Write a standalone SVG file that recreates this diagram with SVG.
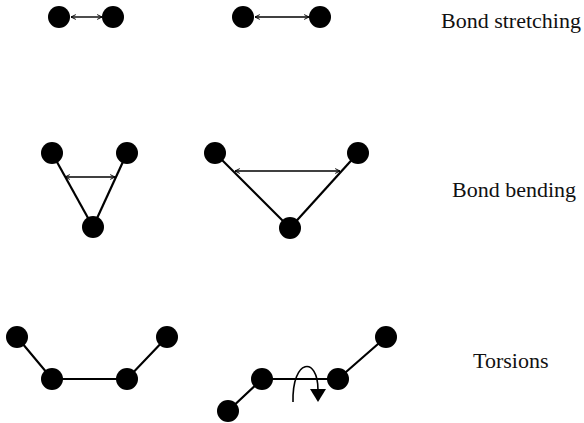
<svg xmlns="http://www.w3.org/2000/svg" width="584" height="423" viewBox="0 0 584 423">
  <defs>
    <marker id="head" viewBox="0 0 10 10" refX="9" refY="5" markerWidth="6" markerHeight="6" orient="auto-start-reverse" markerUnits="userSpaceOnUse">
      <path d="M1,1 L9,5 L1,9" fill="none" stroke="#000" stroke-width="1.6"/>
    </marker>
  </defs>
  <style>
    .atom { fill: #000; }
    .bond { stroke: #000; stroke-width: 2.2; fill: none; }
    .dist { stroke: #000; stroke-width: 1.4; fill: none; marker-start: url(#head); marker-end: url(#head); }
    .label { font-family: "Liberation Serif", "Times New Roman", serif; font-size: 22px; fill: #111; }
  </style>
  <rect width="584" height="423" fill="#fff"/>

  <!-- connectors: bonds and distance arrows -->
  <g id="connectors">
    <line class="dist" x1="71" y1="17" x2="102" y2="17"/>
    <line class="dist" x1="255" y1="17" x2="309" y2="17"/>

    <line class="bond" x1="52" y1="153" x2="93" y2="227"/>
    <line class="bond" x1="127" y1="153" x2="93" y2="227"/>
    <line class="dist" x1="65" y1="177" x2="115" y2="177"/>

    <line class="bond" x1="215" y1="153" x2="290" y2="228"/>
    <line class="bond" x1="358" y1="153" x2="290" y2="228"/>
    <line class="dist" x1="235" y1="171" x2="340" y2="171"/>

    <path class="bond" d="M17,337 L52,379 L127,379 L167,337"/>
    <path class="bond" d="M228,411 L262,379 L338,379 L386,337"/>
    <path d="M293,402 C292,358 318,356 318,390" fill="none" stroke="#000" stroke-width="1.6"/>
    <polygon points="310,389 326,389 318,402" fill="#000"/>
  </g>

  <!-- atoms -->
  <g id="stretch-a">
    <circle class="atom" cx="59" cy="17" r="11"/>
    <circle class="atom" cx="113" cy="17" r="11"/>
  </g>
  <g id="stretch-b">
    <circle class="atom" cx="243" cy="17" r="11"/>
    <circle class="atom" cx="320" cy="17" r="11"/>
  </g>
  <g id="bend-a">
    <circle class="atom" cx="52" cy="153" r="11"/>
    <circle class="atom" cx="127" cy="153" r="11"/>
    <circle class="atom" cx="93" cy="227" r="11"/>
  </g>
  <g id="bend-b">
    <circle class="atom" cx="215" cy="153" r="11"/>
    <circle class="atom" cx="358" cy="153" r="11"/>
    <circle class="atom" cx="290" cy="228" r="11"/>
  </g>
  <g id="torsion-a">
    <circle class="atom" cx="17" cy="337" r="11"/>
    <circle class="atom" cx="52" cy="379" r="11"/>
    <circle class="atom" cx="127" cy="379" r="11"/>
    <circle class="atom" cx="167" cy="337" r="11"/>
  </g>
  <g id="torsion-b">
    <circle class="atom" cx="228" cy="411" r="11"/>
    <circle class="atom" cx="262" cy="379" r="11"/>
    <circle class="atom" cx="338" cy="379" r="11"/>
    <circle class="atom" cx="386" cy="337" r="11"/>
  </g>

  <!-- row labels -->
  <g id="labels">
    <text class="label" x="441" y="28">Bond stretching</text>
    <text class="label" x="452" y="197">Bond bending</text>
    <text class="label" x="473" y="368">Torsions</text>
  </g>
</svg>
